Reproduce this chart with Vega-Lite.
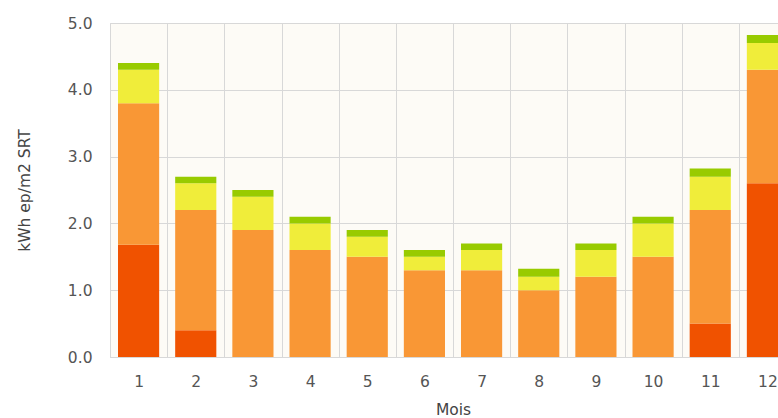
{
  "$schema": "https://vega.github.io/schema/vega-lite/v6.json",
  "autosize": {"type": "none"},
  "padding": {"left": 110, "top": 23, "right": 20, "bottom": 61},
  "width": 686,
  "height": 334,
  "background": "#ffffff",
  "config": {
    "view": {"fill": "#fdfbf6", "stroke": "#d6d6d6", "strokeWidth": 1},
    "font": "DejaVu Sans",
    "axis": {
      "labelFont": "DejaVu Sans",
      "titleFont": "DejaVu Sans",
      "labelColor": "#555555",
      "titleColor": "#444444",
      "labelFontSize": 15.5,
      "titleFontSize": 15.5,
      "titleFontWeight": "normal",
      "gridColor": "#d8d8d8",
      "gridOpacity": 1,
      "domain": false,
      "ticks": false
    }
  },
  "data": {
    "values": [
      {"mois": 1, "poste": "A", "ordre": 1, "v": 1.68},
      {"mois": 1, "poste": "B", "ordre": 2, "v": 2.12},
      {"mois": 1, "poste": "C", "ordre": 3, "v": 0.5},
      {"mois": 1, "poste": "D", "ordre": 4, "v": 0.1},
      {"mois": 2, "poste": "A", "ordre": 1, "v": 0.4},
      {"mois": 2, "poste": "B", "ordre": 2, "v": 1.8},
      {"mois": 2, "poste": "C", "ordre": 3, "v": 0.4},
      {"mois": 2, "poste": "D", "ordre": 4, "v": 0.1},
      {"mois": 3, "poste": "A", "ordre": 1, "v": 0},
      {"mois": 3, "poste": "B", "ordre": 2, "v": 1.9},
      {"mois": 3, "poste": "C", "ordre": 3, "v": 0.5},
      {"mois": 3, "poste": "D", "ordre": 4, "v": 0.1},
      {"mois": 4, "poste": "A", "ordre": 1, "v": 0},
      {"mois": 4, "poste": "B", "ordre": 2, "v": 1.6},
      {"mois": 4, "poste": "C", "ordre": 3, "v": 0.4},
      {"mois": 4, "poste": "D", "ordre": 4, "v": 0.1},
      {"mois": 5, "poste": "A", "ordre": 1, "v": 0},
      {"mois": 5, "poste": "B", "ordre": 2, "v": 1.5},
      {"mois": 5, "poste": "C", "ordre": 3, "v": 0.3},
      {"mois": 5, "poste": "D", "ordre": 4, "v": 0.1},
      {"mois": 6, "poste": "A", "ordre": 1, "v": 0},
      {"mois": 6, "poste": "B", "ordre": 2, "v": 1.3},
      {"mois": 6, "poste": "C", "ordre": 3, "v": 0.2},
      {"mois": 6, "poste": "D", "ordre": 4, "v": 0.1},
      {"mois": 7, "poste": "A", "ordre": 1, "v": 0},
      {"mois": 7, "poste": "B", "ordre": 2, "v": 1.3},
      {"mois": 7, "poste": "C", "ordre": 3, "v": 0.3},
      {"mois": 7, "poste": "D", "ordre": 4, "v": 0.1},
      {"mois": 8, "poste": "A", "ordre": 1, "v": 0},
      {"mois": 8, "poste": "B", "ordre": 2, "v": 1.0},
      {"mois": 8, "poste": "C", "ordre": 3, "v": 0.2},
      {"mois": 8, "poste": "D", "ordre": 4, "v": 0.12},
      {"mois": 9, "poste": "A", "ordre": 1, "v": 0},
      {"mois": 9, "poste": "B", "ordre": 2, "v": 1.2},
      {"mois": 9, "poste": "C", "ordre": 3, "v": 0.4},
      {"mois": 9, "poste": "D", "ordre": 4, "v": 0.1},
      {"mois": 10, "poste": "A", "ordre": 1, "v": 0},
      {"mois": 10, "poste": "B", "ordre": 2, "v": 1.5},
      {"mois": 10, "poste": "C", "ordre": 3, "v": 0.5},
      {"mois": 10, "poste": "D", "ordre": 4, "v": 0.1},
      {"mois": 11, "poste": "A", "ordre": 1, "v": 0.5},
      {"mois": 11, "poste": "B", "ordre": 2, "v": 1.7},
      {"mois": 11, "poste": "C", "ordre": 3, "v": 0.5},
      {"mois": 11, "poste": "D", "ordre": 4, "v": 0.12},
      {"mois": 12, "poste": "A", "ordre": 1, "v": 2.6},
      {"mois": 12, "poste": "B", "ordre": 2, "v": 1.7},
      {"mois": 12, "poste": "C", "ordre": 3, "v": 0.4},
      {"mois": 12, "poste": "D", "ordre": 4, "v": 0.12}
    ]
  },
  "mark": {"type": "bar", "width": {"band": 0.72}},
  "encoding": {
    "x": {
      "field": "mois",
      "type": "ordinal",
      "scale": {"paddingInner": 0, "paddingOuter": 0},
      "axis": {
        "title": "Mois",
        "labelAngle": 0,
        "labelPadding": 17,
        "titlePadding": 13,
        "grid": true,
        "tickBand": "extent"
      }
    },
    "y": {
      "field": "v",
      "type": "quantitative",
      "stack": "zero",
      "scale": {"domain": [0, 5], "nice": false},
      "axis": {
        "title": "kWh ep/m2 SRT",
        "format": ".1f",
        "values": [0, 1, 2, 3, 4, 5],
        "labelPadding": 18,
        "titlePadding": 35,
        "grid": true
      }
    },
    "color": {
      "field": "poste",
      "type": "nominal",
      "scale": {"domain": ["A", "B", "C", "D"], "range": ["#f05200", "#f99735", "#f0ed3a", "#98cb00"]},
      "legend": null
    },
    "order": {"field": "ordre", "type": "quantitative"}
  }
}
